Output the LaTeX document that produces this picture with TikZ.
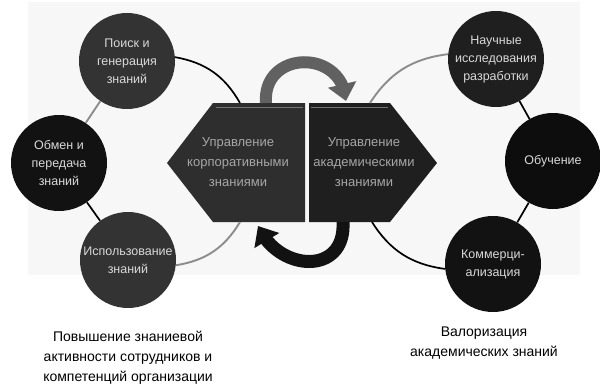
\documentclass[tikz,border=0pt]{standalone}
\usepackage{fontspec}
\setmainfont{Liberation Sans}
\usetikzlibrary{arrows.meta,bending}
\begin{document}
\begin{tikzpicture}[x=1pt,y=-1pt,
  bub/.style={circle,minimum size=96pt,inner sep=0pt,align=center,text=white!85!black,font=\fontsize{12.5}{18}\selectfont},
  hextext/.style={align=center,text=black!35,font=\fontsize{13}{20}\selectfont},
  link/.style={line width=1.7pt,draw=black},
  glink/.style={line width=1.9pt,draw=black!45},
  lbl/.style={align=center,font=\fontsize{14}{20}\selectfont},
  bigarrow/.style={line width=12pt,-{Triangle[length=17pt,width=28pt,flex]}}
]
\useasboundingbox (0,0) rectangle (600,386);
\fill[black!3] (28,2) rectangle (580,275);

% central hexagon (two halves)
\fill[black!82] (167,163) -- (213,103) -- (305,103) -- (305,222) -- (213,222) -- cycle;
\fill[black!88] (309,103) -- (390,103) -- (437,163) -- (390,222) -- (309,222) -- cycle;
\draw[black!55,line width=1pt] (216,107) -- (303,107);
\draw[black!55,line width=1pt] (311,107) -- (388,107);
\node[hextext] (hexL) at (238,162) {Управление\\корпоративными\\знаниями};
\node[hextext] (hexR) at (364,162) {Управление\\академическими\\знаниями};

\coordinate (hTL) at (240,103);
\coordinate (hTR) at (370,103);
\coordinate (hBL) at (240,222);
\coordinate (hBR) at (372,222);
\coordinate (aTs) at (266,103);
\coordinate (aTe) at (346,101);
\coordinate (aBs) at (343,222);
\coordinate (aBe) at (258,226);

% circular arrows
\draw[bigarrow,draw=black!62] (aTs) .. controls (262,50) and (343,48) .. (aTe);
\draw[bigarrow,draw=black!93,line width=13pt] (aBs) .. controls (346,276) and (278,272) .. (aBe);

% circles
\node[bub,fill=black!80] (c1) at (127,61) {Поиск и\\генерация\\знаний};
\node[bub,fill=black!93] (c2) at (59,163) {Обмен и\\передача\\знаний};
\node[bub,fill=black!80] (c3) at (128,260) {Использование\\знаний};
\node[bub,fill=black!88] (c4) at (496,59) {Научные\\исследования\\разработки};
\node[bub,fill=black!95] (c5) at (553,161) {Обучение};
\node[bub,fill=black!93] (c6) at (493,264) {Коммерци-\\ализация};

% connectors
\draw[link] (c1) to[bend left=25] (hTL);
\draw[glink] (c1) -- (c2);
\draw[link] (c2) -- (c3);
\draw[glink] (c3) to[bend right=25] (hBL);
\draw[glink] (c4) to[bend right=25] (hTR);
\draw[link] (c4) -- (c5);
\draw[link] (c5) -- (c6);
\draw[link] (c6) to[bend left=25] (hBR);

% captions
\node[lbl] (l1) at (128,358) {Повышение знаниевой\\активности сотрудников и\\компетенций организации};
\node[lbl] (l2) at (484,343) {Валоризация\\академических знаний};
\end{tikzpicture}
\end{document}
